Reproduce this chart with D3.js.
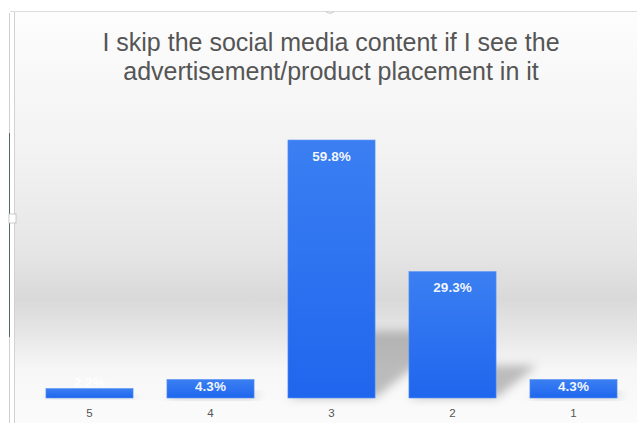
<!DOCTYPE html>
<html>
<head>
<meta charset="utf-8">
<script src="https://cdn.jsdelivr.net/npm/d3@7"></script>
<style>
  html, body { margin: 0; padding: 0; background: #fff; }
  svg { display: block; }
</style>
</head>
<body>
<svg id="chart" width="637" height="423"></svg>
<script>
// Survey answers on a 5..1 scale, share of respondents (%)
const categories = ["5", "4", "3", "2", "1"];
const values = [2.2, 4.3, 59.8, 29.3, 4.3];
const valueLabels = ["2.2%", "4.3%", "59.8%", "29.3%", "4.3%"];
const titleLines = [
  "I skip the social media content if I see the",
  "advertisement/product placement in it"
];

const W = 637, H = 423;
const baseY = 398;
const svg = d3.select("#chart");
const defs = svg.append("defs");

// Background: white fading to a grey band, then back to white near the floor
const bg = defs.append("linearGradient").attr("id", "bg")
  .attr("x1", 0).attr("y1", 0).attr("x2", 0).attr("y2", 1);
[[0, "#fdfdfd"], [0.35, "#f2f2f2"], [0.58, "#e6e6e6"], [0.70, "#d9d9d9"],
 [0.78, "#e6e6e6"], [0.87, "#f7f7f7"], [1, "#fbfbfb"]]
  .forEach(([o, c]) => bg.append("stop").attr("offset", o).attr("stop-color", c));

const barGrad = defs.append("linearGradient").attr("id", "bar")
  .attr("x1", 0).attr("y1", 0).attr("x2", 0).attr("y2", 1);
barGrad.append("stop").attr("offset", 0).attr("stop-color", "#3b7ff2");
barGrad.append("stop").attr("offset", 1).attr("stop-color", "#1f66ee");

const blur = defs.append("filter").attr("id", "soft")
  .attr("x", "-50%").attr("y", "-50%").attr("width", "200%").attr("height", "200%");
blur.append("feGaussianBlur").attr("stdDeviation", 5);

svg.append("rect").attr("x", 0).attr("y", 0).attr("width", W).attr("height", H).attr("fill", "#ffffff");
svg.append("rect").attr("x", 14).attr("y", 11).attr("width", W - 14).attr("height", H - 11).attr("fill", "url(#bg)");

// Frame lines
svg.append("line").attr("x1", 9.5).attr("x2", 9.5).attr("y1", 13).attr("y2", H).attr("stroke", "#cfcfcf");
svg.append("line").attr("x1", 9.5).attr("x2", 9.5).attr("y1", 133).attr("y2", 337).attr("stroke", "#4f6b60");
svg.append("line").attr("x1", 14.5).attr("x2", 14.5).attr("y1", 11).attr("y2", H).attr("stroke", "#d2d2d2");
svg.append("line").attr("x1", 10).attr("x2", W).attr("y1", 11.5).attr("y2", 11.5).attr("stroke", "#dcdcdc");
svg.append("rect").attr("x", 9).attr("y", 214).attr("width", 7).attr("height", 9)
  .attr("fill", "#fff").attr("stroke", "#bdbdbd").attr("stroke-width", 0.8);
svg.append("path").attr("d", "M326,11.5 Q330,15 334,11.5").attr("fill", "none").attr("stroke", "#c8c8c8");

// Scales
const x = d3.scaleBand().domain(categories).range([29, 634]).paddingInner(0.28).paddingOuter(0.14);
const y = d3.scaleLinear().domain([0, 70]).range([baseY, baseY - 70 * 4.314]);

const data = categories.map((c, i) => ({ cat: c, v: values[i], label: valueLabels[i] }));

// Floor shadows cast up and to the right
svg.append("g").selectAll("path").data(data).join("path")
  .attr("d", d => {
    const x0 = x(d.cat), x1 = x0 + x.bandwidth();
    const dy = (baseY - y(d.v)) * 0.26, dx = dy * 1.25;
    return `M${x0},${baseY} L${x1},${baseY} L${x1 + dx},${baseY - dy} L${x0 + dx},${baseY - dy} Z`;
  })
  .attr("fill", "#808080").attr("opacity", 0.5).attr("filter", "url(#soft)");

// Bars
svg.append("g").selectAll("rect").data(data).join("rect")
  .attr("x", d => x(d.cat)).attr("width", x.bandwidth())
  .attr("y", d => y(d.v)).attr("height", d => baseY - y(d.v))
  .attr("fill", "url(#bar)").attr("stroke", "#5a93f4").attr("stroke-width", 0.6);

// Value labels: inside the top of the bar, pinned near the floor for short
// bars, and sitting just above bars too thin to hold the text
function labelY(d) {
  const top = y(d.v);
  if (baseY - top < 12) return top - 6;
  return Math.min(top + 16, baseY - 12);
}
svg.append("g").selectAll("text").data(data).join("text")
  .attr("x", d => x(d.cat) + x.bandwidth() / 2)
  .attr("y", labelY)
  .attr("dy", "0.35em")
  .attr("text-anchor", "middle")
  .attr("font-family", "Liberation Sans, Arial, sans-serif")
  .attr("font-weight", "bold").attr("font-size", 13.5)
  .attr("fill", "#ffffff").attr("fill-opacity", 0.95)
  .text(d => d.label);

// Category axis
const axis = svg.append("g").attr("transform", `translate(0,${baseY})`)
  .call(d3.axisBottom(x).tickSize(0).tickPadding(11));
axis.select(".domain").remove();
axis.selectAll("text")
  .attr("font-family", "Liberation Sans, Arial, sans-serif")
  .attr("font-size", 11.5).attr("fill", "#555");

// Title
svg.append("g").selectAll("text").data(titleLines).join("text")
  .attr("x", 331).attr("y", (d, i) => 51 + i * 29)
  .attr("text-anchor", "middle")
  .attr("font-family", "Liberation Sans, Arial, sans-serif")
  .attr("font-size", 25).attr("fill", "#555")
  .text(d => d);
</script>
</body>
</html>
